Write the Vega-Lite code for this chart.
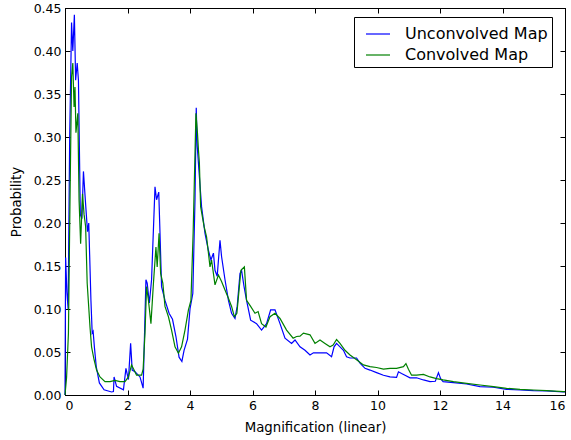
{
  "$schema": "https://vega.github.io/schema/vega-lite/v6.json",
  "width": 500,
  "height": 387,
  "autosize": "none",
  "padding": {"left": 65, "top": 8, "right": 6, "bottom": 45},
  "background": "white",
  "config": {
    "view": {"stroke": "black", "strokeWidth": 1},
    "font": "DejaVu Sans",
    "axis": {
      "grid": false,
      "domainColor": "black",
      "tickColor": "black",
      "labelColor": "black",
      "titleColor": "black",
      "labelFont": "DejaVu Sans",
      "titleFont": "DejaVu Sans",
      "labelFontSize": 12.5,
      "titleFontSize": 13.3,
      "titleFontWeight": "normal",
      "tickSize": -5
    },
    "legend": {
      "labelFont": "DejaVu Sans",
      "labelFontSize": 16,
      "labelColor": "black"
    }
  },
  "datasets": {
    "u": [
      {"x":0,"y":0,"s":"Unconvolved Map"},{"x":0.02,"y":0.16,"s":"Unconvolved Map"},{"x":0.06,"y":0.12,"s":"Unconvolved Map"},{"x":0.1,"y":0.1,"s":"Unconvolved Map"},{"x":0.15,"y":0.3,"s":"Unconvolved Map"},{"x":0.21,"y":0.433,"s":"Unconvolved Map"},{"x":0.25,"y":0.4,"s":"Unconvolved Map"},{"x":0.3,"y":0.442,"s":"Unconvolved Map"},{"x":0.34,"y":0.366,"s":"Unconvolved Map"},{"x":0.39,"y":0.386,"s":"Unconvolved Map"},{"x":0.43,"y":0.366,"s":"Unconvolved Map"},{"x":0.49,"y":0.21,"s":"Unconvolved Map"},{"x":0.54,"y":0.205,"s":"Unconvolved Map"},{"x":0.59,"y":0.26,"s":"Unconvolved Map"},{"x":0.65,"y":0.227,"s":"Unconvolved Map"},{"x":0.72,"y":0.19,"s":"Unconvolved Map"},{"x":0.76,"y":0.2,"s":"Unconvolved Map"},{"x":0.83,"y":0.11,"s":"Unconvolved Map"},{"x":0.87,"y":0.072,"s":"Unconvolved Map"},{"x":0.9,"y":0.074,"s":"Unconvolved Map"},{"x":0.94,"y":0.056,"s":"Unconvolved Map"},{"x":1.0,"y":0.033,"s":"Unconvolved Map"},{"x":1.1,"y":0.014,"s":"Unconvolved Map"},{"x":1.25,"y":0.006,"s":"Unconvolved Map"},{"x":1.49,"y":0.0035,"s":"Unconvolved Map"},{"x":1.55,"y":0.004,"s":"Unconvolved Map"},{"x":1.57,"y":0.021,"s":"Unconvolved Map"},{"x":1.65,"y":0.01,"s":"Unconvolved Map"},{"x":1.87,"y":0.006,"s":"Unconvolved Map"},{"x":1.95,"y":0.031,"s":"Unconvolved Map"},{"x":2.03,"y":0.018,"s":"Unconvolved Map"},{"x":2.1,"y":0.06,"s":"Unconvolved Map"},{"x":2.15,"y":0.029,"s":"Unconvolved Map"},{"x":2.24,"y":0.027,"s":"Unconvolved Map"},{"x":2.4,"y":0.021,"s":"Unconvolved Map"},{"x":2.5,"y":0.008,"s":"Unconvolved Map"},{"x":2.59,"y":0.134,"s":"Unconvolved Map"},{"x":2.63,"y":0.13,"s":"Unconvolved Map"},{"x":2.7,"y":0.107,"s":"Unconvolved Map"},{"x":2.77,"y":0.134,"s":"Unconvolved Map"},{"x":2.88,"y":0.242,"s":"Unconvolved Map"},{"x":2.93,"y":0.227,"s":"Unconvolved Map"},{"x":3.0,"y":0.236,"s":"Unconvolved Map"},{"x":3.04,"y":0.188,"s":"Unconvolved Map"},{"x":3.09,"y":0.126,"s":"Unconvolved Map"},{"x":3.2,"y":0.11,"s":"Unconvolved Map"},{"x":3.33,"y":0.095,"s":"Unconvolved Map"},{"x":3.44,"y":0.088,"s":"Unconvolved Map"},{"x":3.55,"y":0.068,"s":"Unconvolved Map"},{"x":3.65,"y":0.044,"s":"Unconvolved Map"},{"x":3.74,"y":0.039,"s":"Unconvolved Map"},{"x":3.81,"y":0.052,"s":"Unconvolved Map"},{"x":3.92,"y":0.065,"s":"Unconvolved Map"},{"x":4.0,"y":0.1,"s":"Unconvolved Map"},{"x":4.09,"y":0.118,"s":"Unconvolved Map"},{"x":4.16,"y":0.227,"s":"Unconvolved Map"},{"x":4.2,"y":0.334,"s":"Unconvolved Map"},{"x":4.23,"y":0.29,"s":"Unconvolved Map"},{"x":4.3,"y":0.254,"s":"Unconvolved Map"},{"x":4.37,"y":0.219,"s":"Unconvolved Map"},{"x":4.48,"y":0.188,"s":"Unconvolved Map"},{"x":4.59,"y":0.168,"s":"Unconvolved Map"},{"x":4.67,"y":0.157,"s":"Unconvolved Map"},{"x":4.75,"y":0.165,"s":"Unconvolved Map"},{"x":4.8,"y":0.145,"s":"Unconvolved Map"},{"x":4.87,"y":0.138,"s":"Unconvolved Map"},{"x":4.96,"y":0.18,"s":"Unconvolved Map"},{"x":5.01,"y":0.161,"s":"Unconvolved Map"},{"x":5.12,"y":0.134,"s":"Unconvolved Map"},{"x":5.23,"y":0.11,"s":"Unconvolved Map"},{"x":5.33,"y":0.095,"s":"Unconvolved Map"},{"x":5.44,"y":0.089,"s":"Unconvolved Map"},{"x":5.51,"y":0.103,"s":"Unconvolved Map"},{"x":5.6,"y":0.1415,"s":"Unconvolved Map"},{"x":5.65,"y":0.145,"s":"Unconvolved Map"},{"x":5.73,"y":0.126,"s":"Unconvolved Map"},{"x":5.81,"y":0.11,"s":"Unconvolved Map"},{"x":5.94,"y":0.087,"s":"Unconvolved Map"},{"x":6.13,"y":0.083,"s":"Unconvolved Map"},{"x":6.29,"y":0.0755,"s":"Unconvolved Map"},{"x":6.45,"y":0.083,"s":"Unconvolved Map"},{"x":6.58,"y":0.099,"s":"Unconvolved Map"},{"x":6.72,"y":0.099,"s":"Unconvolved Map"},{"x":6.88,"y":0.083,"s":"Unconvolved Map"},{"x":7.04,"y":0.066,"s":"Unconvolved Map"},{"x":7.25,"y":0.06,"s":"Unconvolved Map"},{"x":7.36,"y":0.064,"s":"Unconvolved Map"},{"x":7.52,"y":0.056,"s":"Unconvolved Map"},{"x":7.68,"y":0.052,"s":"Unconvolved Map"},{"x":7.84,"y":0.0465,"s":"Unconvolved Map"},{"x":7.95,"y":0.049,"s":"Unconvolved Map"},{"x":8.16,"y":0.049,"s":"Unconvolved Map"},{"x":8.37,"y":0.049,"s":"Unconvolved Map"},{"x":8.53,"y":0.0445,"s":"Unconvolved Map"},{"x":8.61,"y":0.056,"s":"Unconvolved Map"},{"x":8.69,"y":0.06,"s":"Unconvolved Map"},{"x":8.8,"y":0.056,"s":"Unconvolved Map"},{"x":8.91,"y":0.052,"s":"Unconvolved Map"},{"x":9.01,"y":0.0445,"s":"Unconvolved Map"},{"x":9.12,"y":0.043,"s":"Unconvolved Map"},{"x":9.33,"y":0.043,"s":"Unconvolved Map"},{"x":9.44,"y":0.037,"s":"Unconvolved Map"},{"x":9.6,"y":0.031,"s":"Unconvolved Map"},{"x":9.76,"y":0.029,"s":"Unconvolved Map"},{"x":9.97,"y":0.026,"s":"Unconvolved Map"},{"x":10.19,"y":0.023,"s":"Unconvolved Map"},{"x":10.4,"y":0.021,"s":"Unconvolved Map"},{"x":10.61,"y":0.0205,"s":"Unconvolved Map"},{"x":10.67,"y":0.027,"s":"Unconvolved Map"},{"x":10.77,"y":0.025,"s":"Unconvolved Map"},{"x":10.88,"y":0.023,"s":"Unconvolved Map"},{"x":11.04,"y":0.02,"s":"Unconvolved Map"},{"x":11.25,"y":0.02,"s":"Unconvolved Map"},{"x":11.47,"y":0.0175,"s":"Unconvolved Map"},{"x":11.68,"y":0.0155,"s":"Unconvolved Map"},{"x":11.85,"y":0.016,"s":"Unconvolved Map"},{"x":11.95,"y":0.026,"s":"Unconvolved Map"},{"x":12.02,"y":0.019,"s":"Unconvolved Map"},{"x":12.1,"y":0.0155,"s":"Unconvolved Map"},{"x":12.43,"y":0.0143,"s":"Unconvolved Map"},{"x":12.85,"y":0.0128,"s":"Unconvolved Map"},{"x":13.28,"y":0.0097,"s":"Unconvolved Map"},{"x":13.71,"y":0.009,"s":"Unconvolved Map"},{"x":14.13,"y":0.0066,"s":"Unconvolved Map"},{"x":14.56,"y":0.0058,"s":"Unconvolved Map"},{"x":14.99,"y":0.005,"s":"Unconvolved Map"},{"x":15.41,"y":0.0047,"s":"Unconvolved Map"},{"x":15.95,"y":0.0035,"s":"Unconvolved Map"},{"x":16,"y":0.0035,"s":"Unconvolved Map"}
    ],
    "c": [
      {"x":0,"y":0,"s":"Convolved Map"},{"x":0.05,"y":0.02,"s":"Convolved Map"},{"x":0.11,"y":0.072,"s":"Convolved Map"},{"x":0.16,"y":0.227,"s":"Convolved Map"},{"x":0.21,"y":0.37,"s":"Convolved Map"},{"x":0.25,"y":0.386,"s":"Convolved Map"},{"x":0.29,"y":0.335,"s":"Convolved Map"},{"x":0.32,"y":0.358,"s":"Convolved Map"},{"x":0.35,"y":0.305,"s":"Convolved Map"},{"x":0.41,"y":0.3275,"s":"Convolved Map"},{"x":0.45,"y":0.227,"s":"Convolved Map"},{"x":0.5,"y":0.176,"s":"Convolved Map"},{"x":0.56,"y":0.234,"s":"Convolved Map"},{"x":0.61,"y":0.21,"s":"Convolved Map"},{"x":0.66,"y":0.196,"s":"Convolved Map"},{"x":0.71,"y":0.13,"s":"Convolved Map"},{"x":0.8,"y":0.079,"s":"Convolved Map"},{"x":0.85,"y":0.056,"s":"Convolved Map"},{"x":0.93,"y":0.041,"s":"Convolved Map"},{"x":1.01,"y":0.029,"s":"Convolved Map"},{"x":1.12,"y":0.021,"s":"Convolved Map"},{"x":1.28,"y":0.0155,"s":"Convolved Map"},{"x":1.44,"y":0.0155,"s":"Convolved Map"},{"x":1.6,"y":0.017,"s":"Convolved Map"},{"x":1.76,"y":0.0155,"s":"Convolved Map"},{"x":1.92,"y":0.0155,"s":"Convolved Map"},{"x":2.03,"y":0.021,"s":"Convolved Map"},{"x":2.13,"y":0.035,"s":"Convolved Map"},{"x":2.21,"y":0.029,"s":"Convolved Map"},{"x":2.29,"y":0.023,"s":"Convolved Map"},{"x":2.45,"y":0.023,"s":"Convolved Map"},{"x":2.5,"y":0.03,"s":"Convolved Map"},{"x":2.56,"y":0.072,"s":"Convolved Map"},{"x":2.61,"y":0.126,"s":"Convolved Map"},{"x":2.67,"y":0.11,"s":"Convolved Map"},{"x":2.75,"y":0.083,"s":"Convolved Map"},{"x":2.83,"y":0.13,"s":"Convolved Map"},{"x":2.91,"y":0.172,"s":"Convolved Map"},{"x":2.95,"y":0.149,"s":"Convolved Map"},{"x":3.01,"y":0.188,"s":"Convolved Map"},{"x":3.06,"y":0.1415,"s":"Convolved Map"},{"x":3.13,"y":0.13,"s":"Convolved Map"},{"x":3.2,"y":0.103,"s":"Convolved Map"},{"x":3.31,"y":0.091,"s":"Convolved Map"},{"x":3.41,"y":0.0755,"s":"Convolved Map"},{"x":3.52,"y":0.056,"s":"Convolved Map"},{"x":3.63,"y":0.0485,"s":"Convolved Map"},{"x":3.73,"y":0.056,"s":"Convolved Map"},{"x":3.84,"y":0.0755,"s":"Convolved Map"},{"x":3.95,"y":0.099,"s":"Convolved Map"},{"x":4.03,"y":0.11,"s":"Convolved Map"},{"x":4.1,"y":0.188,"s":"Convolved Map"},{"x":4.19,"y":0.3275,"s":"Convolved Map"},{"x":4.24,"y":0.304,"s":"Convolved Map"},{"x":4.27,"y":0.285,"s":"Convolved Map"},{"x":4.3,"y":0.27,"s":"Convolved Map"},{"x":4.34,"y":0.219,"s":"Convolved Map"},{"x":4.45,"y":0.196,"s":"Convolved Map"},{"x":4.53,"y":0.184,"s":"Convolved Map"},{"x":4.64,"y":0.149,"s":"Convolved Map"},{"x":4.69,"y":0.157,"s":"Convolved Map"},{"x":4.8,"y":0.128,"s":"Convolved Map"},{"x":4.91,"y":0.1395,"s":"Convolved Map"},{"x":5.01,"y":0.132,"s":"Convolved Map"},{"x":5.12,"y":0.122,"s":"Convolved Map"},{"x":5.23,"y":0.1125,"s":"Convolved Map"},{"x":5.33,"y":0.103,"s":"Convolved Map"},{"x":5.42,"y":0.091,"s":"Convolved Map"},{"x":5.5,"y":0.095,"s":"Convolved Map"},{"x":5.58,"y":0.126,"s":"Convolved Map"},{"x":5.63,"y":0.145,"s":"Convolved Map"},{"x":5.74,"y":0.149,"s":"Convolved Map"},{"x":5.81,"y":0.11,"s":"Convolved Map"},{"x":5.94,"y":0.103,"s":"Convolved Map"},{"x":6.08,"y":0.095,"s":"Convolved Map"},{"x":6.18,"y":0.097,"s":"Convolved Map"},{"x":6.29,"y":0.083,"s":"Convolved Map"},{"x":6.43,"y":0.079,"s":"Convolved Map"},{"x":6.56,"y":0.091,"s":"Convolved Map"},{"x":6.72,"y":0.095,"s":"Convolved Map"},{"x":6.88,"y":0.089,"s":"Convolved Map"},{"x":7.09,"y":0.0755,"s":"Convolved Map"},{"x":7.3,"y":0.066,"s":"Convolved Map"},{"x":7.41,"y":0.068,"s":"Convolved Map"},{"x":7.52,"y":0.0685,"s":"Convolved Map"},{"x":7.63,"y":0.072,"s":"Convolved Map"},{"x":7.84,"y":0.07,"s":"Convolved Map"},{"x":8.0,"y":0.06,"s":"Convolved Map"},{"x":8.16,"y":0.064,"s":"Convolved Map"},{"x":8.32,"y":0.06,"s":"Convolved Map"},{"x":8.48,"y":0.056,"s":"Convolved Map"},{"x":8.58,"y":0.058,"s":"Convolved Map"},{"x":8.69,"y":0.0645,"s":"Convolved Map"},{"x":8.8,"y":0.06,"s":"Convolved Map"},{"x":8.96,"y":0.052,"s":"Convolved Map"},{"x":9.12,"y":0.0465,"s":"Convolved Map"},{"x":9.33,"y":0.041,"s":"Convolved Map"},{"x":9.55,"y":0.035,"s":"Convolved Map"},{"x":9.76,"y":0.033,"s":"Convolved Map"},{"x":9.97,"y":0.032,"s":"Convolved Map"},{"x":10.19,"y":0.03,"s":"Convolved Map"},{"x":10.4,"y":0.031,"s":"Convolved Map"},{"x":10.61,"y":0.031,"s":"Convolved Map"},{"x":10.83,"y":0.033,"s":"Convolved Map"},{"x":10.91,"y":0.0365,"s":"Convolved Map"},{"x":10.99,"y":0.03,"s":"Convolved Map"},{"x":11.09,"y":0.023,"s":"Convolved Map"},{"x":11.25,"y":0.023,"s":"Convolved Map"},{"x":11.47,"y":0.024,"s":"Convolved Map"},{"x":11.68,"y":0.021,"s":"Convolved Map"},{"x":11.89,"y":0.019,"s":"Convolved Map"},{"x":12.1,"y":0.0175,"s":"Convolved Map"},{"x":12.43,"y":0.0155,"s":"Convolved Map"},{"x":12.85,"y":0.0136,"s":"Convolved Map"},{"x":13.28,"y":0.0116,"s":"Convolved Map"},{"x":13.71,"y":0.0097,"s":"Convolved Map"},{"x":14.13,"y":0.0078,"s":"Convolved Map"},{"x":14.56,"y":0.0066,"s":"Convolved Map"},{"x":14.99,"y":0.0058,"s":"Convolved Map"},{"x":15.41,"y":0.005,"s":"Convolved Map"},{"x":15.95,"y":0.004,"s":"Convolved Map"},{"x":16,"y":0.004,"s":"Convolved Map"}
    ]
  },
  "layer": [
    {
      "data": {"name": "u"},
      "mark": {"type": "line", "strokeWidth": 1.2, "interpolate": "linear"},
      "encoding": {
        "x": {"field": "x", "type": "quantitative", "scale": {"domain": [0, 16], "nice": false},
              "axis": {"orient": "bottom", "title": "Magnification (linear)", "values": [0,2,4,6,8,10,12,14,16], "format": "d", "labelPadding": 9, "titlePadding": 9}},
        "y": {"field": "y", "type": "quantitative", "scale": {"domain": [0, 0.45], "nice": false},
              "axis": {"orient": "left", "title": "Probability", "values": [0,0.05,0.1,0.15,0.2,0.25,0.3,0.35,0.4,0.45], "format": ".2f", "labelPadding": 9, "titlePadding": 10}},
        "color": {"field": "s", "type": "nominal",
                  "scale": {"domain": ["Unconvolved Map", "Convolved Map"], "range": ["#0000ff", "#008000"]},
                  "legend": {"orient": "none", "legendX": 289, "legendY": 9, "title": null,
                             "symbolType": "stroke", "symbolSize": 576, "symbolStrokeWidth": 1.2,
                             "strokeColor": "black", "fillColor": "white", "padding": 4,
                             "symbolOffset": 7, "labelOffset": 14, "rowPadding": -1, "cornerRadius": 0}}
      }
    },
    {
      "data": {"name": "c"},
      "mark": {"type": "line", "strokeWidth": 1.2, "interpolate": "linear"},
      "encoding": {
        "x": {"field": "x", "type": "quantitative",
              "axis": {"orient": "top", "title": null, "labels": false, "values": [0,2,4,6,8,10,12,14,16]}},
        "y": {"field": "y", "type": "quantitative",
              "axis": {"orient": "right", "title": null, "labels": false, "values": [0,0.05,0.1,0.15,0.2,0.25,0.3,0.35,0.4,0.45]}},
        "color": {"field": "s", "type": "nominal"}
      }
    }
  ],
  "resolve": {"axis": {"x": "independent", "y": "independent"}}
}
